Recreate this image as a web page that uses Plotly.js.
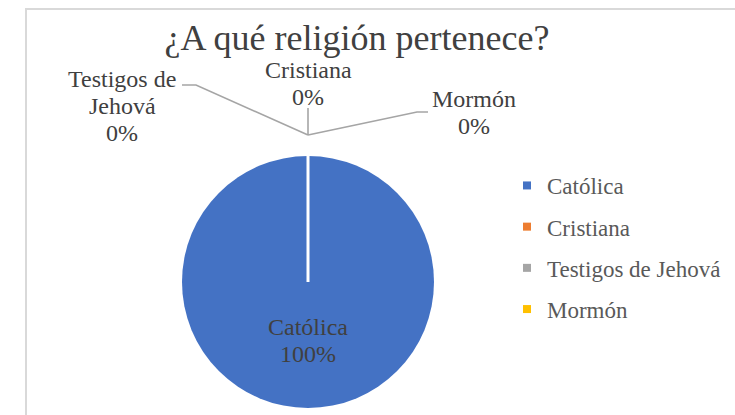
<!DOCTYPE html>
<html>
<head>
<meta charset="utf-8">
<script src="https://cdn.plot.ly/plotly-3.0.1.min.js"></script>
<style>html,body{margin:0;padding:0;background:#fff;}#chart{width:735px;height:415px;}</style>
</head>
<body>
<div id="chart"></div>
<script>
// ---- data ----
const categories = ['Católica', 'Cristiana', 'Testigos de Jehová', 'Mormón'];
const values = [100, 0, 0, 0];
const colors = ['#4472C4', '#ED7D31', '#A5A5A5', '#FFC000'];
const wrappedLabels = ['Católica', 'Cristiana', 'Testigos de<br>Jehová', 'Mormón'];
const chartTitle = '¿A qué religión pertenece?';

// ---- layout constants (pixels) ----
const W = 735, H = 415;
const cx = 308, cy = 282, r = 126;
const serif = '"Liberation Serif", "Times New Roman", serif';
const px = x => x / W;
const py = y => 1 - y / H;

const total = values.reduce((a, b) => a + b, 0);
const pct = values.map(v => Math.round(v / total * 100) + '%');

// label placement: centre x, first line centre y
const labelPos = [[308, 327], [308, 70], [122, 79], [474, 99]];
const lineGap = 27;

const annotations = [];
categories.forEach((c, i) => {
  const lines = wrappedLabels[i].split('<br>').concat([pct[i]]);
  lines.forEach((t, j) => {
    annotations.push({
      xref: 'paper', yref: 'paper', x: px(labelPos[i][0]), y: py(labelPos[i][1] + j * lineGap),
      xanchor: 'center', yanchor: 'middle', showarrow: false, text: t,
      font: {family: serif, size: 24, color: '#404040'}
    });
  });
});

// leader lines for outside labels (pixel points)
const leaders = [
  [[308, 135], [308, 108]],
  [[308, 135], [196, 85], [182, 85]],
  [[308, 135], [417, 112], [428, 112]]
];
const shapes = leaders.map(pts => ({
  type: 'path', xref: 'paper', yref: 'paper',
  path: pts.map((p, k) => (k ? 'L' : 'M') + px(p[0]) + ',' + py(p[1])).join(' '),
  line: {color: '#A5A5A5', width: 1.6}
}));
// white separator at slice start
shapes.push({type: 'line', xref: 'paper', yref: 'paper', x0: px(cx), y0: py(cy), x1: px(cx), y1: py(cy - r - 2),
  line: {color: '#ffffff', width: 3}});
// chart area border
shapes.push({type: 'rect', xref: 'paper', yref: 'paper', x0: px(26), y0: -0.1, x1: 1.1, y1: py(9),
  line: {color: '#D9D9D9', width: 2}});

const traces = [{
  type: 'pie', labels: categories, values: values, sort: false, direction: 'clockwise', rotation: 0,
  marker: {colors: colors, line: {color: '#ffffff', width: 0}},
  textinfo: 'none', showlegend: false, hoverinfo: 'label+percent',
  domain: {x: [px(cx - r), px(cx + r)], y: [py(cy + r), py(cy - r)]}
}];
// legend entries, one per category
categories.forEach((c, i) => {
  traces.push({
    type: 'scatter', mode: 'markers', x: [null], y: [null], name: c, legendgroup: 'g' + i,
    marker: {symbol: 'square', size: 8, color: colors[i]}, hoverinfo: 'skip'
  });
});

const layout = {
  width: W, height: H, margin: {l: 0, r: 0, t: 0, b: 0},
  paper_bgcolor: '#ffffff', plot_bgcolor: 'rgba(0,0,0,0)',
  title: {text: chartTitle, x: px(357), xanchor: 'center', y: py(37), yanchor: 'middle',
    font: {family: serif, size: 36, color: '#404040'}},
  xaxis: {visible: false}, yaxis: {visible: false},
  showlegend: true,
  legend: {x: px(507), xanchor: 'left', y: py(164), yanchor: 'top', traceorder: 'grouped', tracegroupgap: 8.3,
    font: {family: serif, size: 23, color: '#595959'}, bgcolor: 'rgba(0,0,0,0)'},
  annotations: annotations, shapes: shapes
};

Plotly.newPlot('chart', traces, layout, {displayModeBar: false, staticPlot: true});
</script>
</body>
</html>
